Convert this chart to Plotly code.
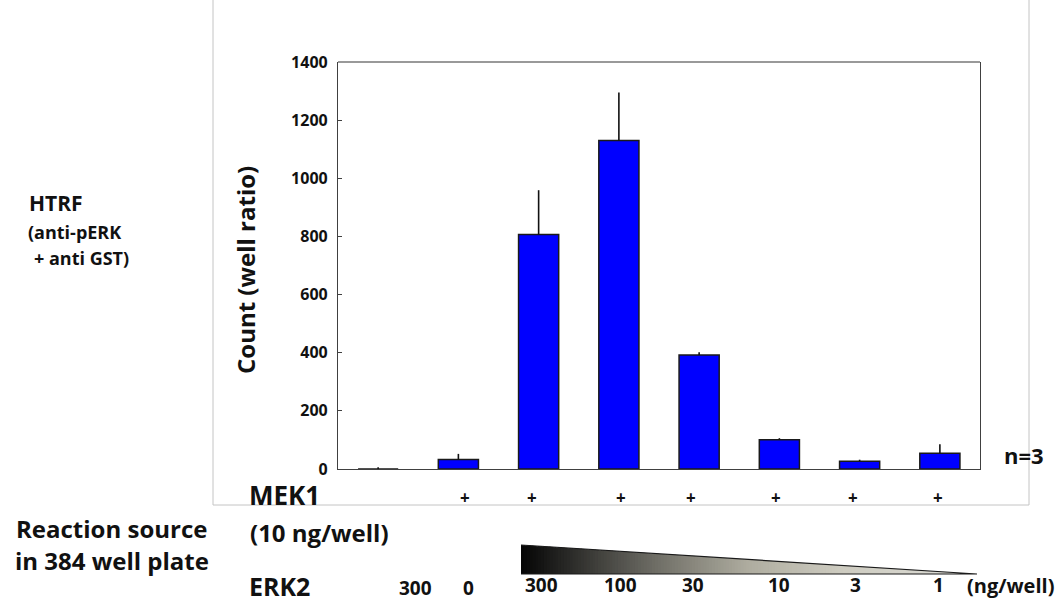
import plotly.graph_objects as go

# ---------------- data ----------------
sample_ids = [0, 1, 2, 3, 4, 5, 6, 7]
counts = [0, 33, 807, 1130, 392, 101, 27, 54]
errors_plus = [6, 19, 152, 165, 10, 5, 5, 31]
mek1_labels = ["", "+", "+", "+", "+", "+", "+", "+"]
erk2_labels = ["300", "0", "300", "100", "30", "10", "3", "1"]
y_ticks = [0, 200, 400, 600, 800, 1000, 1200, 1400]

# ---------------- layout helpers ----------------
W, H = 1059, 603
FONT = "Open Sans"


def px(x):
    return x / W


def py(y):
    return 1 - y / H


plot_left, plot_right, plot_top, plot_bottom = 338, 980, 62, 469

fig = go.Figure()
fig.add_trace(go.Bar(
    x=sample_ids,
    y=counts,
    width=0.5,
    marker=dict(color="#0000FF", line=dict(color="#1a1a1a", width=1.5)),
    error_y=dict(type="data", array=errors_plus, arrayminus=[0] * len(counts),
                 symmetric=False, color="#111111", thickness=1.6, width=0),
    showlegend=False,
    hoverinfo="skip",
))

fig.update_layout(
    width=W, height=H,
    margin=dict(l=0, r=0, t=0, b=0, autoexpand=False),
    paper_bgcolor="white",
    plot_bgcolor="white",
    xaxis=dict(domain=[px(plot_left), px(plot_right)], range=[-0.5, 7.5],
               showticklabels=False, ticks="", showgrid=False, zeroline=False,
               automargin=False,
               showline=True, linecolor="#404040", linewidth=1.2, fixedrange=True),
    yaxis=dict(domain=[py(plot_bottom), py(plot_top)], range=[0, 1400],
               tickvals=y_ticks, ticktext=[str(v) for v in y_ticks],
               ticks="inside", ticklen=4, tickcolor="#404040", tickwidth=1,
               showgrid=False, zeroline=False, showline=True, linecolor="#404040",
               automargin=False,
               linewidth=1.2, mirror=True, ticklabelstandoff=6,
               tickfont=dict(family=FONT, size=16, color="#111111", weight="bold")),
)

shapes = []
# outer light frame
shapes.append(dict(type="rect", xref="paper", yref="paper",
                   x0=px(213), x1=px(1029), y0=py(505), y1=py(-2),
                   line=dict(color="#c4c4c4", width=1), layer="below"))
# top border of plot (grey)
shapes.append(dict(type="line", xref="paper", yref="paper",
                   x0=px(plot_left), x1=px(plot_right), y0=py(plot_top), y1=py(plot_top),
                   line=dict(color="#999999", width=2.2)))

# gradient wedge for ERK2 amounts
tx0, tx1, ty_top, ty_bot = 521, 977, 545, 574
stops = [(0.0, (5, 5, 5)), (0.1, (40, 40, 38)), (0.3, (112, 111, 103)),
         (0.5, (175, 173, 160)), (0.7, (205, 203, 192)), (1.0, (222, 222, 216))]


def col(t):
    for (t0, c0), (t1, c1) in zip(stops[:-1], stops[1:]):
        if t <= t1:
            f = (t - t0) / (t1 - t0)
            return "rgb(%d,%d,%d)" % tuple(round(a + (b - a) * f) for a, b in zip(c0, c1))
    return "rgb(%d,%d,%d)" % stops[-1][1]


N = 160
for i in range(N):
    xa = tx0 + (tx1 - tx0) * i / N
    xb = min(tx0 + (tx1 - tx0) * (i + 1.3) / N, tx1)
    ya = ty_top + (ty_bot - ty_top) * (xa - tx0) / (tx1 - tx0)
    yb = ty_top + (ty_bot - ty_top) * (xb - tx0) / (tx1 - tx0)
    path = "M %f,%f L %f,%f L %f,%f L %f,%f Z" % (px(xa), py(ya), px(xb), py(yb),
                                                 px(xb), py(ty_bot), px(xa), py(ty_bot))
    shapes.append(dict(type="path", xref="paper", yref="paper", path=path,
                       fillcolor=col((i + 0.5) / N), line=dict(width=0)))
shapes.append(dict(type="path", xref="paper", yref="paper",
                   path="M %f,%f L %f,%f L %f,%f" % (px(tx0), py(ty_top), px(tx1), py(ty_bot),
                                                    px(tx0), py(ty_bot)),
                   line=dict(color="#1a1a1a", width=1.2)))
fig.update_layout(shapes=shapes)

ann = []


def text(t, x, y, size, xanchor="left", xref="paper", xshift=0, angle=0):
    ann.append(dict(text=t, x=x if xref != "paper" else px(x), y=py(y), xref=xref, yref="paper",
                    xanchor=xanchor, yanchor="middle", showarrow=False, xshift=xshift,
                    textangle=angle, borderpad=0,
                    font=dict(family=FONT, size=size, color="#111111", weight="bold")))


text("HTRF", 28, 203, 21)
text("(anti-pERK", 27, 232, 18)
text("+ anti GST)", 33, 258, 18)
text("Count (well ratio)", 245, 270, 24, xanchor="center", angle=-90)
text("n=3", 1024, 455, 22, xanchor="center")
text("MEK1", 248, 495, 26)
text("(10 ng/well)", 249, 532, 24)
text("Reaction source", 208, 528, 24, xanchor="right")
text("in 384 well plate", 210, 560, 24, xanchor="right")
text("ERK2", 248, 586, 25)
text("(ng/well)", 1010, 585, 20, xanchor="center")

mek_shift = [0, 7, -7, 2, -8, -3, -7, -2]
for i, lab in enumerate(mek1_labels):
    if lab:
        text(lab, sample_ids[i], 497, 17, xanchor="center", xref="x", xshift=mek_shift[i])

erk_shift = [37, 10, 3, 2, -6, 0, -4, -1]
erk_y = [588, 588, 585, 585, 585, 585, 585, 585]
for i, lab in enumerate(erk2_labels):
    text(lab, sample_ids[i], erk_y[i], 19, xanchor="center", xref="x", xshift=erk_shift[i])

fig.update_layout(annotations=ann)
fig.write_html("out.html")
